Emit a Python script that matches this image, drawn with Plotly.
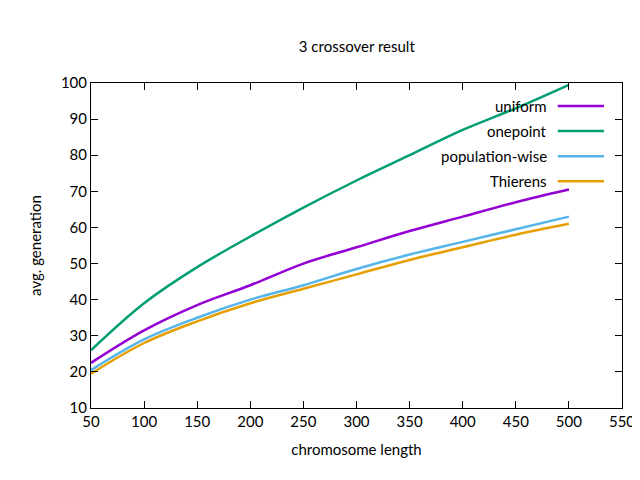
import plotly.graph_objects as go

lengths = [50, 100, 150, 200, 250, 300, 350, 400, 450, 500]
uniform = [22.5, 31.5, 38.5, 44, 50, 54.5, 59, 63, 67, 70.5]
onepoint = [26, 39, 49, 57.5, 65.5, 73, 80, 87, 93, 99.5]
population_wise = [20.5, 29, 35, 40, 44, 48.5, 52.5, 56, 59.5, 63]
thierens = [19.5, 28, 34, 39, 43, 47, 51, 54.5, 58, 61]

series = [
    ("uniform", uniform, "#9400d3"),
    ("onepoint", onepoint, "#009e73"),
    ("population-wise", population_wise, "#56b4e9"),
    ("Thierens", thierens, "#e69f00"),
]

fig = go.Figure()
for name, ys, color in series:
    fig.add_trace(go.Scatter(x=lengths, y=ys, mode="lines", name=name,
                             line=dict(color=color, width=2.5, shape="spline"),
                             showlegend=False))

# gnuplot style key: text right-aligned, sample line to the right
for i, (name, ys, color) in enumerate(series):
    yp = 0.929 - i * 0.077
    fig.add_annotation(x=0.862, y=yp, xref="paper", yref="paper", text=name,
                       showarrow=False, xanchor="right", yanchor="middle",
                       font=dict(size=15, color="black"))
    fig.add_shape(type="line", xref="paper", yref="paper", x0=0.879, x1=0.966,
                  y0=yp, y1=yp, line=dict(color=color, width=2.5))

axis = dict(showline=True, mirror="ticks", linecolor="black", linewidth=1,
            ticks="inside", ticklen=7, tickcolor="black", showgrid=False,
            zeroline=False, automargin=False, tickfont=dict(size=15, color="black"))
fig.update_xaxes(range=[50, 550], dtick=50, title=dict(text="chromosome length", font=dict(size=15)), **axis)
fig.update_yaxes(range=[10, 100], dtick=10, title=dict(text="avg. generation", font=dict(size=15)), **axis)
fig.update_layout(
    width=640, height=480,
    margin=dict(l=83, r=26, t=75, b=80, autoexpand=False),
    title=dict(text="3 crossover result", x=0.545, y=0.93, font=dict(size=15, color="black")),
    font=dict(family="Lato, Noto Sans, sans-serif", color="black"),
    plot_bgcolor="white", paper_bgcolor="white",
)
fig.write_html("out.html")
